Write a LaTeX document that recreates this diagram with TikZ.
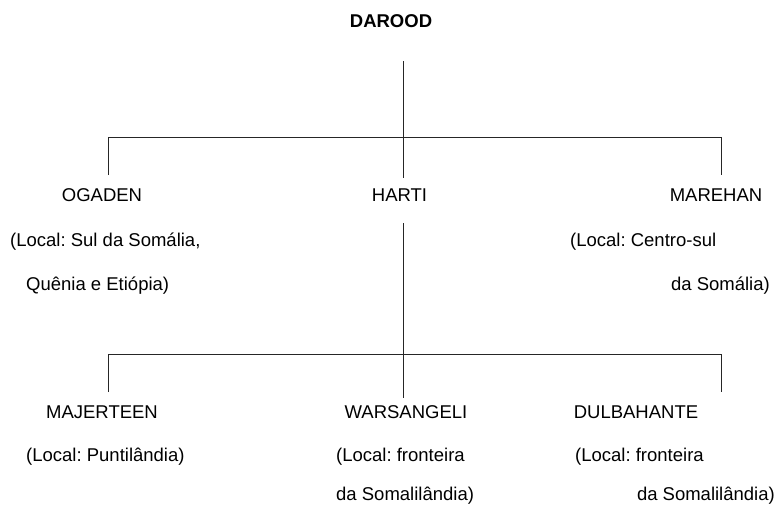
\documentclass[tikz,border=0pt]{standalone}
\usepackage{fontspec}
\setmainfont{Liberation Sans}
\frenchspacing

\begin{document}
\begin{tikzpicture}[x=1pt,y=-1pt,
every node/.style={inner sep=0pt,font=\fontsize{18.5}{22}\selectfont},
clan/.style={anchor=base},
local/.style={anchor=base west},
localright/.style={anchor=base east},
branch/.style={line width=1pt,draw=black!85}]
\useasboundingbox (0,0) rectangle (776,507);

%root
\node[clan,font=\fontsize{18.5}{22}\selectfont\bfseries] (darood) at (391,27.5) {DAROOD};

%first level
\node[clan] (ogaden) at (102,201.5) {OGADEN};
\node[clan] (harti) at (399.5,201.5) {HARTI};
\node[clan] (marehan) at (716,201.5) {MAREHAN};
\node[local] (ogaden1) at (10,246.5) {(Local: Sul da Somália,};
\node[local] (ogaden2) at (26,290) {Quênia e Etiópia)};
\node[local] (marehan1) at (570,246.5) {(Local: Centro-sul};
\node[localright] (marehan2) at (770,290) {da Somália)};

%second level
\node[clan] (majerteen) at (102,418) {MAJERTEEN};
\node[clan] (warsangeli) at (406,418) {WARSANGELI};
\node[clan] (dulbahante) at (636,418) {DULBAHANTE};
\node[local] (majerteen1) at (26,461.5) {(Local: Puntilândia)};
\node[local] (warsangeli1) at (336,461.5) {(Local: fronteira};
\node[local] (warsangeli2) at (336,500) {da Somalilândia)};
\node[local] (dulbahante1) at (575,461.5) {(Local: fronteira};
\node[localright] (dulbahante2) at (775,500) {da Somalilândia)};

%free ends of the lines
\coordinate (dtop) at (403,61);
\coordinate (dbar) at (403,137);
\coordinate (otop) at (108,175);
\coordinate (obar) at (108,137);
\coordinate (mtop) at (721,175);
\coordinate (mbar) at (721,137);
\coordinate (htop) at (403,178);
\coordinate (hbot) at (403,223);
\coordinate (wtop) at (403,398);
\coordinate (jtop) at (108,392);
\coordinate (jbar) at (108,354);
\coordinate (btop) at (721,392);
\coordinate (bbar) at (721,354);

%lines
\draw[branch] (dtop) -- (dbar);
\draw[branch] (otop) -- (obar) -- (mbar) -- (mtop);
\draw[branch] (dbar) -- (htop);
\draw[branch] (hbot) -- (wtop);
\draw[branch] (jtop) -- (jbar) -- (bbar) -- (btop);
\end{tikzpicture}
\end{document}
